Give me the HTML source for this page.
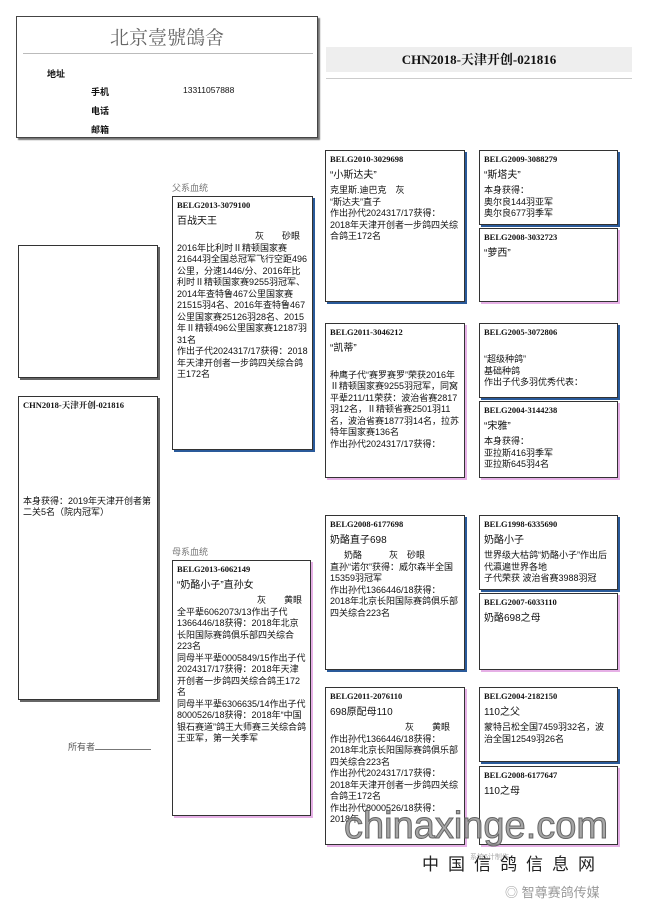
<!DOCTYPE html>
<html><head><meta charset="utf-8"><style>
*{margin:0;padding:0;box-sizing:border-box}
body{width:650px;height:920px;background:#fff;position:relative;overflow:hidden;font-family:"Liberation Sans","Noto Sans CJK SC",sans-serif;color:#111}
.a{position:absolute}
.b{position:absolute;border:1px solid #333;background:#fff;font-size:9px;line-height:11.5px;padding:3px 4px;overflow:hidden}
.m{box-shadow:2px 2px 0 #2a5a9a}
.f{box-shadow:2px 2px 0 #e6b0e6}
.id{font-family:"Liberation Serif","Noto Serif CJK SC",serif;font-weight:bold;font-size:8.5px;margin-bottom:4px}
.n{font-size:10px;margin-bottom:4px}
.lbl{position:absolute;font-size:9px;color:#777}
</style></head><body>
<div class="a" style="left:16px;top:16px;width:302px;height:122px;border:1px solid #444;box-shadow:2px 2px 1px #777">
<div class="a" style="left:0;top:6px;width:300px;text-align:center;font-family:'Noto Serif CJK SC',serif;font-size:19px;color:#666">北京壹號鴿舍</div>
<div class="a" style="left:6px;top:36px;width:290px;border-top:1px solid #bbb"></div>
<div class="a" style="left:30px;top:50px;font-size:9px;font-weight:bold">地址</div>
<div class="a" style="left:74px;top:68px;font-size:9px;font-weight:bold">手机</div>
<div class="a" style="left:166px;top:68px;font-size:8.5px">13311057888</div>
<div class="a" style="left:74px;top:87px;font-size:9px;font-weight:bold">电话</div>
<div class="a" style="left:74px;top:106px;font-size:9px;font-weight:bold">邮箱</div>
</div>
<div class="a" style="left:326px;top:47px;width:306px;height:25px;background:#eee;text-align:center;font-family:'Liberation Serif','Noto Serif CJK SC',serif;font-size:13px;font-weight:bold;line-height:25px">CHN2018-天津开创-021816</div>
<div class="a" style="left:326px;top:78px;width:306px;border-top:1px solid #ccc"></div>

<div class="b" style="left:18px;top:245px;width:140px;height:133px;box-shadow:2px 2px 0 #666"></div>
<div class="b" style="left:18px;top:396px;width:140px;height:304px;box-shadow:2px 2px 0 #666"><div class="id">CHN2018-天津开创-021816</div><div style="margin-top:84px">本身获得：2019年天津开创者第二关5名（院内冠军）</div></div>
<div class="a" style="left:68px;top:740px;font-size:9px;color:#555">所有者<span style="display:inline-block;width:56px;border-bottom:1px solid #777"></span></div>

<div class="lbl" style="left:172px;top:181px">父系血统</div>
<div class="b m" style="left:172px;top:196px;width:141px;height:254px"><div class="id">BELG2013-3079100</div><div class="n">百战天王</div><div style="text-align:right;padding-right:8px">灰　　砂眼</div>2016年比利时Ⅱ精顿国家赛21644羽全国总冠军飞行空距496公里，分速1446/分、2016年比利时Ⅱ精顿国家赛9255羽冠军、2014年查特鲁467公里国家赛21515羽4名、2016年查特鲁467公里国家赛25126羽28名、2015年Ⅱ精顿496公里国家赛12187羽31名<br>作出子代2024317/17获得：2018年天津开创者一步鸽四关综合鸽王172名</div>
<div class="lbl" style="left:172px;top:545px">母系血统</div>
<div class="b f" style="left:172px;top:560px;width:139px;height:256px"><div class="id">BELG2013-6062149</div><div class="n">“奶酪小子”直孙女</div><div style="text-align:right;padding-right:4px">灰　　黄眼</div>全平辈6062073/13作出子代1366446/18获得：2018年北京长阳国际赛鸽俱乐部四关综合223名<br>同母半平辈0005849/15作出子代2024317/17获得：2018年天津开创者一步鸽四关综合鸽王172名<br>同母半平辈6306635/14作出子代8000526/18获得：2018年“中国银石赛道”鸽王大师赛三关综合鸽王亚军，第一关季军</div>

<div class="b m" style="left:325px;top:150px;width:140px;height:152px"><div class="id">BELG2010-3029698</div><div class="n">“小斯达夫”</div><div>克里斯.迪巴克　灰</div><div>“斯达夫”直子</div>作出孙代2024317/17获得：2018年天津开创者一步鸽四关综合鸽王172名</div>
<div class="b f" style="left:325px;top:323px;width:140px;height:155px"><div class="id">BELG2011-3046212</div><div class="n">“凯蒂”</div><br>种鹰子代“赛罗赛罗”荣获2016年Ⅱ精顿国家赛9255羽冠军，同窝平辈211/11荣获：波治省赛2817羽12名，Ⅱ精顿省赛2501羽11名，波治省赛1877羽14名，拉苏特年国家赛136名<br>作出孙代2024317/17获得：</div>
<div class="b m" style="left:325px;top:515px;width:140px;height:155px"><div class="id">BELG2008-6177698</div><div class="n">奶酪直子698</div><div style="padding-left:14px">奶酪　　　灰　砂眼</div>直孙“诺尔”获得：威尔森半全国15359羽冠军<br>作出孙代1366446/18获得：2018年北京长阳国际赛鸽俱乐部四关综合223名</div>
<div class="b f" style="left:325px;top:687px;width:140px;height:158px"><div class="id">BELG2011-2076110</div><div class="n">698原配母110</div><div style="text-align:right;padding-right:10px">灰　　黄眼</div>作出孙代1366446/18获得：2018年北京长阳国际赛鸽俱乐部四关综合223名<br>作出孙代2024317/17获得：2018年天津开创者一步鸽四关综合鸽王172名<br>作出孙代8000526/18获得：2018年</div>

<div class="b m" style="left:479px;top:150px;width:139px;height:75px"><div class="id">BELG2009-3088279</div><div class="n">“斯塔夫”</div>本身获得：<br>奥尔良144羽亚军<br>奥尔良677羽季军</div>
<div class="b f" style="left:479px;top:228px;width:139px;height:74px"><div class="id">BELG2008-3032723</div><div class="n">“萝西”</div></div>
<div class="b m" style="left:479px;top:323px;width:139px;height:75px"><div class="id">BELG2005-3072806</div><br>“超级种鸽”<br>基础种鸽<br>作出子代多羽优秀代表：</div>
<div class="b f" style="left:479px;top:401px;width:139px;height:77px"><div class="id">BELG2004-3144238</div><div class="n">“宋雅”</div>本身获得：<br>亚拉斯416羽季军<br>亚拉斯645羽4名</div>
<div class="b m" style="left:479px;top:515px;width:139px;height:75px"><div class="id">BELG1998-6335690</div><div class="n">奶酪小子</div>世界级大枯鸽“奶酪小子”作出后代瀛遍世界各地<br>子代荣获 波治省赛3988羽冠</div>
<div class="b f" style="left:479px;top:593px;width:139px;height:77px"><div class="id">BELG2007-6033110</div><div class="n">奶酪698之母</div></div>
<div class="b m" style="left:479px;top:687px;width:139px;height:75px"><div class="id">BELG2004-2182150</div><div class="n">110之父</div>蒙特吕松全国7459羽32名，波治全国12549羽26名</div>
<div class="b f" style="left:479px;top:766px;width:139px;height:79px"><div class="id">BELG2008-6177647</div><div class="n">110之母</div></div>

<div class="a" style="left:344px;top:804px;font-size:38px;line-height:44px;color:rgba(150,150,150,.85);font-family:'Liberation Sans',sans-serif;-webkit-text-stroke:1px #666">chinaxinge.com</div>
<div class="a" style="left:470px;top:852px;font-size:7px;color:#aaa">系统6计制作</div>
<div class="a" style="left:422px;top:850px;font-size:17px;color:#222;letter-spacing:9px">中国信鸽信息网</div>
<div class="a" style="left:505px;top:882px;font-size:13px;color:#999">◎ 智尊赛鸽传媒</div>
</body></html>
